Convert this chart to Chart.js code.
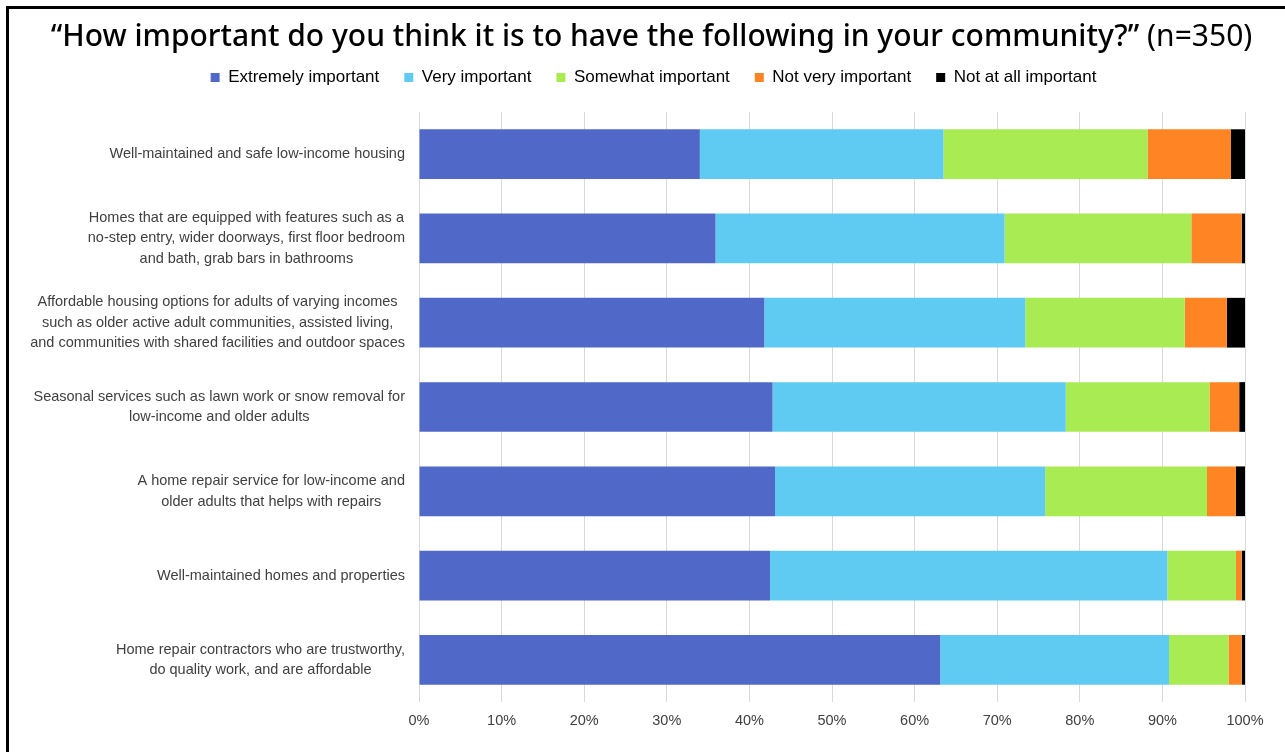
<!DOCTYPE html>
<html>
<head>
<meta charset="utf-8">
<script src="https://cdn.jsdelivr.net/npm/chart.js@4.4.1/dist/chart.umd.min.js"></script>
<style>
  body { margin: 0; background: #fff; }
  #wrap { position: relative; width: 1285px; height: 752px; overflow: hidden; }
  #frame { position: absolute; left: 6px; top: 6px; right: -10px; bottom: -10px;
           border-top: 3px solid #000; border-left: 3px solid #000; pointer-events: none; }
  #title { position: absolute; left: 18px; right: 0; top: 14px; text-align: center;
           font-family: "Noto Sans", "Open Sans", sans-serif; font-size: 30px; color: #000;
           white-space: nowrap; }
  #title .q { font-weight: 500; }
  #title .n { font-weight: 400; }
  canvas { position: absolute; left: 0; top: 0; }
</style>
</head>
<body>
<div id="wrap">
  <canvas id="chart" width="1285" height="752"></canvas>
  <div id="frame"></div>
  <div id="title"><span class="q">“How important do you think it is to have the following in your community?”</span> <span class="n">(n=350)</span></div>
</div>
<script>
const NARROW = '"Liberation Sans Narrow", "Arial Narrow", "Liberation Sans", sans-serif';

const categories = [
  ["Well-maintained and safe low-income housing"],
  ["Homes that are equipped with features such as a", "no-step entry, wider doorways, first floor bedroom", "and bath, grab bars in bathrooms"],
  ["Affordable housing options for adults of varying incomes", "such as older active adult communities, assisted living,", "and communities with shared facilities and outdoor spaces"],
  ["Seasonal services such as lawn work or snow removal for", "low-income and older adults"],
  ["A home repair service for low-income and", "older adults that helps with repairs"],
  ["Well-maintained homes and properties"],
  ["Home repair contractors who are trustworthy,", "do quality work, and are affordable"]
];

const seriesNames = ["Extremely important", "Very important", "Somewhat important", "Not very important", "Not at all important"];
const seriesColors = ["#5068C8", "#5FCBF2", "#A9EB52", "#FF8424", "#000000"];

// percent of respondents, one entry per category (top to bottom)
const extremely = [34.0, 35.9, 41.8, 42.8, 43.1, 42.5, 63.1];
const very      = [29.5, 35.0, 31.6, 35.5, 32.7, 48.1, 27.7];
const somewhat  = [24.7, 22.6, 19.3, 17.4, 19.6,  8.3,  7.2];
const notVery   = [10.1,  6.1,  5.1,  3.6,  3.5,  0.7,  1.6];
const notAtAll  = [ 1.7,  0.4,  2.2,  0.7,  1.1,  0.4,  0.4];

const xTicks = [0, 10, 20, 30, 40, 50, 60, 70, 80, 90, 100];

const seriesValues = [extremely, very, somewhat, notVery, notAtAll];

// category labels: each block right-aligned to the axis, lines centred inside it
const categoryLabels = {
  id: 'categoryLabels',
  afterDraw(chart) {
    const ctx = chart.ctx;
    const yScale = chart.scales.y;
    const right = chart.chartArea.left - 14;
    const lineH = 20.5;
    ctx.save();
    ctx.font = '14.5px ' + NARROW;
    ctx.fillStyle = '#404040';
    ctx.textAlign = 'center';
    ctx.textBaseline = 'middle';
    categories.forEach((lines, i) => {
      const w = Math.max(...lines.map(l => ctx.measureText(l).width));
      const cx = right - w / 2;
      const cy = yScale.getPixelForValue(i);
      const y0 = cy - (lines.length - 1) * lineH / 2;
      lines.forEach((l, k) => ctx.fillText(l, cx, y0 + k * lineH));
    });
    ctx.restore();
  }
};

// extra room under the legend before the plot starts
const legendGap = {
  id: 'legendGap',
  beforeUpdate(chart) {
    const lg = chart.legend;
    if (lg && !lg._gapAdded) {
      const fit = lg.fit;
      lg.fit = function () { fit.call(this); this.height += 16; };
      lg._gapAdded = true;
    }
  }
};

new Chart(document.getElementById('chart'), {
  type: 'bar',
  data: {
    labels: categories.map(c => c.join(' ')),
    datasets: seriesNames.map((name, i) => ({
      label: name,
      data: seriesValues[i],
      backgroundColor: seriesColors[i],
      borderWidth: 0,
      categoryPercentage: 1,
      barPercentage: 0.59
    }))
  },
  options: {
    responsive: false,
    animation: false,
    indexAxis: 'y',
    layout: { padding: { top: 44, right: 40, bottom: 0, left: 62 } },
    plugins: {
      legend: {
        labels: {
          boxWidth: 9,
          boxHeight: 9,
          padding: 25,
          color: '#000',
          font: { family: NARROW, size: 17 }
        }
      },
      tooltip: { enabled: false }
    },
    scales: {
      x: {
        stacked: true,
        min: 0,
        max: 100,
        afterBuildTicks(scale) { scale.ticks = xTicks.map(v => ({ value: v })); },
        ticks: {
          callback: v => v + '%',
          color: '#404040',
          padding: 10,
          maxRotation: 0,
          font: { family: NARROW, size: 14.5 }
        },
        grid: { color: '#d9d9d9', drawTicks: false },
        border: { display: false },
        afterFit(scale) { scale.height = 50; }
      },
      y: {
        stacked: true,
        ticks: { display: false },
        grid: { display: false },
        border: { display: false },
        afterFit(scale) { scale.width = 357; }
      }
    }
  },
  plugins: [categoryLabels, legendGap]
});
</script>
</body>
</html>
